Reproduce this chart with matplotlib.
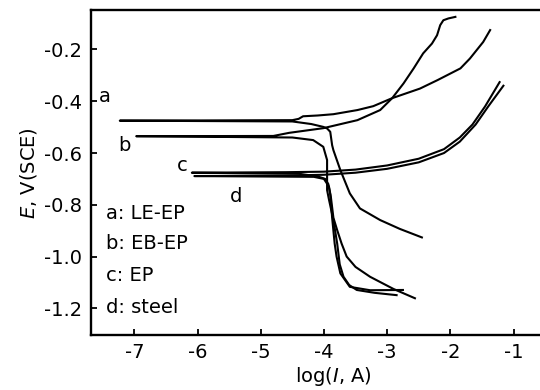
import matplotlib
matplotlib.use("Agg")
import matplotlib.pyplot as plt

plt.rcParams['font.family'] = ['DejaVu Sans']
plt.rcParams['mathtext.fontset'] = 'dejavusans'

# curva a: LE-EP (catodica -> Ecorr -> anodica)
xa = [-2.45, -2.8, -3.11, -3.43, -3.59, -3.74, -3.85, -3.87, -3.90, -3.95, -4.01, -4.2, -4.5,
      -7.23, -4.5, -4.4, -4.33, -4.1, -3.85, -3.47, -3.22, -2.92, -2.48, -2.2, -1.84, -1.69, -1.48, -1.37]
ya = [-0.926, -0.893, -0.859, -0.814, -0.756, -0.666, -0.589, -0.57, -0.518, -0.505, -0.499, -0.488, -0.478,
      -0.475, -0.473, -0.468, -0.458, -0.455, -0.45, -0.434, -0.419, -0.388, -0.351, -0.318, -0.273, -0.235, -0.171, -0.125]

# curva b: EB-EP
xb = [-2.85, -3.2, -3.48, -3.6, -3.69, -3.75, -3.79, -3.85, -3.92, -3.95, -3.95, -4.01, -4.17, -4.5,
      -6.97, -4.8, -4.55, -4.01, -3.47, -3.11, -2.92, -2.74, -2.58, -2.43, -2.29, -2.21, -2.16, -2.11, -2.03, -1.92]
yb = [-1.149, -1.14, -1.129, -1.11, -1.078, -1.03, -0.95, -0.859, -0.78, -0.743, -0.627, -0.576, -0.55, -0.54,
      -0.535, -0.534, -0.522, -0.504, -0.473, -0.434, -0.388, -0.331, -0.273, -0.215, -0.177, -0.145, -0.106, -0.087, -0.08, -0.074]

# curva c: EP
xc = [-2.75, -3.27, -3.59, -3.74, -3.8, -3.83, -3.87, -3.9, -3.93, -3.98, -4.1, -4.4,
      -6.09, -4.6, -4.0, -3.5, -3.0, -2.5, -2.1, -1.85, -1.65, -1.45, -1.22]
yc = [-1.129, -1.13, -1.117, -1.065, -1.0, -0.95, -0.85, -0.76, -0.72, -0.70, -0.69, -0.68,
      -0.676, -0.674, -0.672, -0.664, -0.648, -0.622, -0.585, -0.54, -0.49, -0.42, -0.326]

# curva d: acero
xd = [-2.56, -2.9, -3.27, -3.5, -3.64, -3.72, -3.79, -3.85, -3.89, -3.92, -4.0, -4.16,
      -6.05, -4.6, -4.0, -3.5, -3.0, -2.5, -2.1, -1.85, -1.6, -1.4, -1.16]
yd = [-1.161, -1.125, -1.078, -1.04, -1.0, -0.95, -0.898, -0.85, -0.77, -0.73, -0.70, -0.692,
      -0.689, -0.687, -0.684, -0.676, -0.661, -0.636, -0.6, -0.556, -0.49, -0.42, -0.34]

etiquetas = ['a', 'b', 'c', 'd']
etiq_x = [-7.46, -7.15, -6.24, -5.39]
etiq_y = [-0.383, -0.57, -0.647, -0.769]
leyenda = ['a: LE-EP', 'b: EB-EP', 'c: EP', 'd: steel']
leyenda_y = [-0.833, -0.949, -1.075, -1.196]

fig = plt.figure(figsize=(5.4, 3.9), dpi=100)
ax = fig.add_axes([0.168, 0.141, 0.9, 0.833])

for x, y in [(xa, ya), (xb, yb), (xc, yc), (xd, yd)]:
    ax.plot(x, y, color='black', lw=1.5)

for t, x, y in zip(etiquetas, etiq_x, etiq_y):
    ax.text(x, y, t, fontsize=14, ha='center', va='center')
for t, y in zip(leyenda, leyenda_y):
    ax.text(-7.45, y, t, fontsize=14, ha='left', va='center')

ax.set_xlim(-7.69, 0)
ax.set_ylim(-1.303, -0.048)
ax.set_xticks([-7, -6, -5, -4, -3, -2, -1])
ax.set_xticklabels(['-7', '-6', '-5', '-4', '-3', '-2', '-1'])
ax.set_yticks([-1.2, -1.0, -0.8, -0.6, -0.4, -0.2])
ax.set_yticklabels(['-1.2', '-1.0', '-0.8', '-0.6', '-0.4', '-0.2'])
ax.tick_params(direction='in', length=4, width=1.3, labelsize=14, pad=6)
for s in ax.spines.values():
    s.set_linewidth(1.7)

ax.set_xlabel(r'log($\mathit{I}$, A)', fontsize=14, labelpad=2)
ax.set_ylabel(r'$\mathit{E}$, V(SCE)', fontsize=14, labelpad=4)

fig.savefig('out.png', dpi=100)
